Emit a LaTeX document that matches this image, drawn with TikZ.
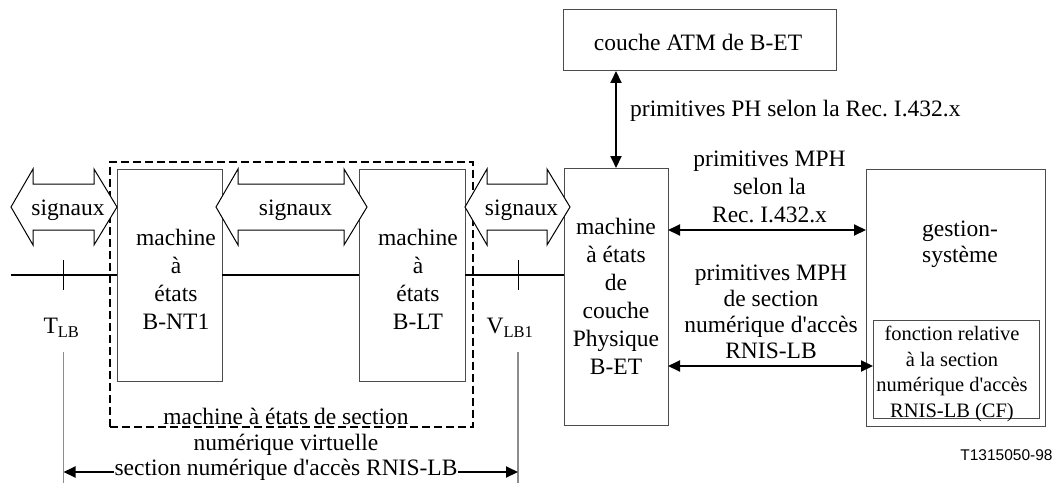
\documentclass[tikz,border=0pt]{standalone}
\usepackage{fontspec}
\setmainfont{Liberation Serif}
\newfontfamily\tagfont{Liberation Sans}
\usetikzlibrary{arrows.meta}
\frenchspacing

\definecolor{boxgray}{gray}{0.3}
\definecolor{extgray}{gray}{0.55}

% straight apostrophe
\newcommand\ap{\textquotesingle}

% double-headed block arrow carrying the word "signaux"
% #1 name, #2 left tip x, #3 right tip x, #4 axis y
\newcommand\sigarr[4]{%
  \draw[sigshape] (#2,#4) -- ({#2+22},{#4-38}) -- ({#2+22},{#4-23})
    -- ({#3-23},{#4-23}) -- ({#3-23},{#4-38}) -- (#3,#4)
    -- ({#3-23},{#4+38}) -- ({#3-23},{#4+23}) -- ({#2+22},{#4+23})
    -- ({#2+22},{#4+38}) -- cycle;
  \node[txt] (#1) at ({(#2+#3)/2+4},{#4+3}) {signaux};}

\begin{document}
\begin{tikzpicture}[x=1pt,y=-1pt,
  box/.style={draw=boxgray, line width=1pt, inner sep=0pt, outer sep=0pt, fill=white},
  txt/.style={font=\fontsize{23.5}{28}\selectfont, align=center, inner sep=0pt},
  smalltxt/.style={font=\fontsize{20.5}{25.5}\selectfont, align=center, inner sep=0pt},
  sigshape/.style={draw=black, line width=1pt, fill=white, line join=miter},
  conn/.style={line width=2pt, {Triangle[length=12pt,width=11pt]}-{Triangle[length=12pt,width=11pt]}},
  sigline/.style={line width=2pt},
  tick/.style={line width=1pt},
  ext/.style={draw=extgray, line width=1.5pt},
  section/.style={draw=black, line width=2pt, dash pattern=on 8pt off 4pt}]
\useasboundingbox (0,0) rectangle (1056,484);

% virtual digital section (dashed)
\node[section, inner sep=0pt, minimum width=363pt, minimum height=265pt] (vsec) at (291.5,294.5) {};

% state machine boxes
\node[box, minimum width=105pt, minimum height=212pt] (nt1) at (169.5,275) {};
\node[box, minimum width=106pt, minimum height=212pt] (lt)  at (412,275) {};
\node[box, minimum width=104pt, minimum height=257pt] (bet) at (616,296.5) {};
\node[box, minimum width=179pt, minimum height=257pt] (gest) at (955.5,297.5) {};
\node[box, minimum width=166pt, minimum height=98pt]  (cf)  at (956,369) {};
\node[box, minimum width=273pt, minimum height=61pt]  (atm) at (699.5,40.5) {};

% box texts
\node[txt] (nt1t) at (176,279) {machine\\à\\états\\B-NT1};
\node[txt] (ltt)  at (418,279) {machine\\à\\états\\B-LT};
\node[txt] (bett) at (616,296) {machine\\à états\\de\\couche\\Physique\\B-ET};
\node[txt, font=\fontsize{23.5}{26}\selectfont] (gestt) at (960,244) {gestion-\\système};
\node[smalltxt] (cft) at (952,374) {fonction relative\\à la section\\numérique d\ap accès\\RNIS-LB (CF)};
\node[txt] (atmt) at (698,42) {couche ATM de B-ET};

% signal line
\coordinate (lstart) at (11,275);
\draw[sigline] (lstart) -- (lstart -| nt1.west);
\draw[sigline] (lstart -| nt1.east) -- (lstart -| lt.west);
\draw[sigline] (lstart -| lt.east) -- (lstart -| bet.west);

% reference points
\coordinate (tT) at (63.5,275);
\coordinate (tV) at (518,275);
\draw[tick] ([yshift=15pt]tT) -- ([yshift=-15pt]tT);
\draw[tick] ([yshift=15pt]tV) -- ([yshift=-15pt]tV);
\node[txt] (tlb) at (61.5,328) {T\textsubscript{LB}};
\node[txt] (vlb) at (510,328) {V\textsubscript{LB1}};

% signal block arrows
\sigarr{sig1}{11}{117}{207}
\sigarr{sig2}{216}{367}{207}
\sigarr{sig3}{465}{570}{207}

% primitives
\draw[conn] (bet.north) -- (bet.north |- atm.south);
\node[txt, anchor=west] (ph) at (630,111) {primitives PH selon la Rec. I.432.x};

\coordinate (m1) at (769.5,230);
\coordinate (m2) at (769.5,366);
\draw[conn] (m1 -| bet.east) -- (m1 -| gest.west);
\draw[conn] (m2 -| bet.east) -- (m2 -| cf.west);
\node[txt] (mph1) at (769.5,187) {primitives MPH\\selon la\\Rec. I.432.x};
\node[txt, font=\fontsize{23.5}{26}\selectfont] (mph2) at (771,312) {primitives MPH\\de section\\numérique d\ap accès\\RNIS-LB};

% labels of the virtual section
\node[txt] (vsec1) at (286,416) {machine à états de section};
\node[txt] (vsec2) at (286,445) {numérique virtuelle};

% access digital section dimension
\coordinate (eT1) at (63.5,352);
\coordinate (eT2) at (63.5,483);
\coordinate (eV1) at (518,352);
\coordinate (eV2) at (518,483);
\draw[ext] (eT1) -- (eT2);
\draw[ext] (eV1) -- (eV2);
\coordinate (dimL) at (63.5,472);
\coordinate (dimR) at (518,472);
\draw[conn] (dimL) -- (dimR);
\node[txt, fill=white, inner xsep=1pt, inner ysep=0pt] (dimt) at (286,470) {section numérique d\ap accès RNIS-LB};

% figure tag
\node[inner sep=0pt, font=\tagfont\fontsize{15.5}{18}\selectfont] (tag) at (1006.5,455) {T1315050-98};
\end{tikzpicture}
\end{document}
